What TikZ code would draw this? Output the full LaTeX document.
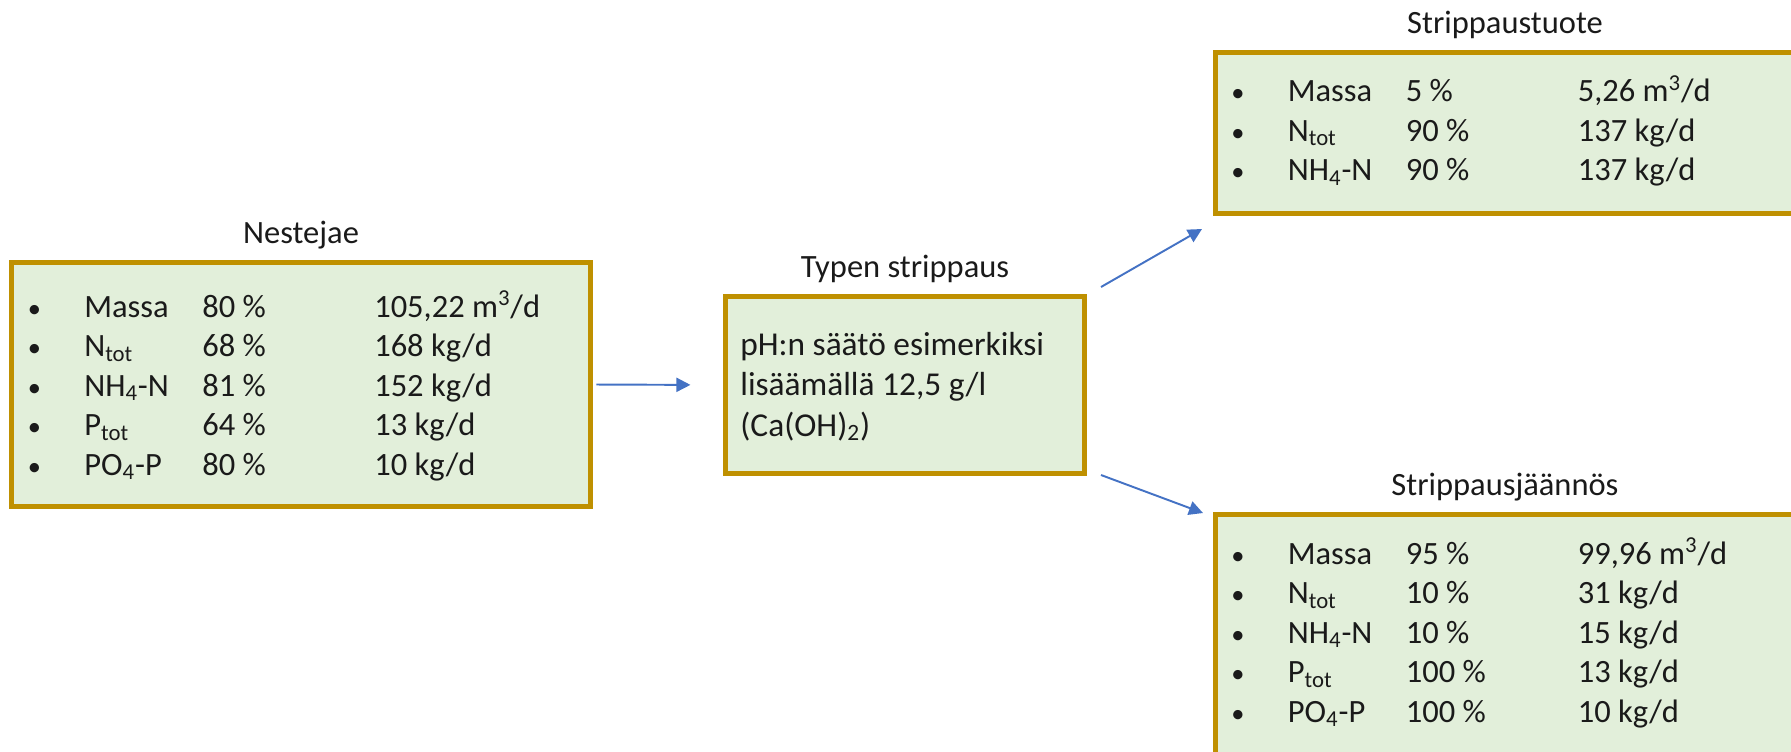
\documentclass[tikz,border=0pt]{standalone}
\usepackage{fontspec}
\setmainfont{Carlito}
\usetikzlibrary{arrows.meta}

\definecolor{boxfill}{HTML}{E2EFDA}
\definecolor{boxline}{HTML}{BF9000}
\definecolor{flowblue}{HTML}{4472C4}
\definecolor{textgray}{HTML}{1A1A1A}

\newcommand{\rowfont}{\fontsize{18.5}{22.5}\selectfont}
\newcommand{\midfont}{\fontsize{19}{23.05}\selectfont}
\newcommand{\lowtxt}[1]{\textsubscript{#1}}
\newcommand{\hightxt}[1]{\textsuperscript{#1}}
\newcommand{\dotmark}{\makebox[0.32cm]{\fontsize{15}{15}\selectfont\textbullet}}
\newenvironment{flowrows}{\begin{tabular}[t]{@{}p{1.16cm}@{}p{2.36cm}@{}p{3.44cm}@{}l@{}}}{\end{tabular}}

\tikzset{
  flowbox/.style={draw=boxline, fill=boxfill, line width=0.094cm, inner sep=0pt},
  boxtitle/.style={anchor=base, font=\rowfont, text=textgray},
  rowlist/.style={anchor=base west, inner sep=0pt, font=\rowfont, text=textgray},
  flowarrow/.style={flowblue, line width=1.1pt, -{Triangle[length=0.28cm,width=0.28cm]}}
}

\begin{document}
\begin{tikzpicture}[x=0.02cm, y=-0.02cm]
    \path[use as bounding box, clip] (0,0) rectangle (1791,751);

    % input
    \node (nestejae) at (301,384.5) [flowbox, minimum width=11.58cm, minimum height=4.89cm]{};
    \node (nestejae-title) at (301,243) [boxtitle] {Nestejae};
    \node (nestejae-rows) at (26,317) [rowlist] {\begin{flowrows}
        \dotmark & Massa & 80 \% & 105,22 m\hightxt{3}/d\\
        \dotmark & N\lowtxt{tot} & 68 \% & 168 kg/d\\
        \dotmark & NH\lowtxt{4}-N & 81 \% & 152 kg/d\\
        \dotmark & P\lowtxt{tot} & 64 \% & 13 kg/d\\
        \dotmark & PO\lowtxt{4}-P & 80 \% & 10 kg/d
    \end{flowrows}};

    % stripping
    \node (strip) at (905,385) [flowbox, minimum width=7.19cm, minimum height=3.55cm]{};
    \node (strip-title) at (905,277) [boxtitle] {Typen strippaus};
    \node (strip-text) at (740,355) [rowlist, font=\midfont] {\begin{tabular}[t]{@{}l@{}}
        pH:n säätö esimerkiksi\\
        lisäämällä 12,5 g/l\\
        (Ca(OH)\lowtxt{2})
    \end{tabular}};

    % product
    \node (tuote) at (1505,133) [flowbox, minimum width=11.59cm, minimum height=3.23cm]{};
    \node (tuote-title) at (1505,33) [boxtitle] {Strippaustuote};
    \node (tuote-rows) at (1229.5,101.5) [rowlist] {\begin{flowrows}
        \dotmark & Massa & 5 \% & 5,26 m\hightxt{3}/d\\
        \dotmark & N\lowtxt{tot} & 90 \% & 137 kg/d\\
        \dotmark & NH\lowtxt{4}-N & 90 \% & 137 kg/d
    \end{flowrows}};

    % residue
    \node (jaannos) at (1505,651) [flowbox, minimum width=11.59cm, minimum height=5.47cm]{};
    \node (jaannos-title) at (1505,495) [boxtitle] {Strippausjäännös};
    \node (jaannos-rows) at (1229.5,564) [rowlist] {\begin{flowrows}
        \dotmark & Massa & 95 \% & 99,96 m\hightxt{3}/d\\
        \dotmark & N\lowtxt{tot} & 10 \% & 31 kg/d\\
        \dotmark & NH\lowtxt{4}-N & 10 \% & 15 kg/d\\
        \dotmark & P\lowtxt{tot} & 100 \% & 13 kg/d\\
        \dotmark & PO\lowtxt{4}-P & 100 \% & 10 kg/d
    \end{flowrows}};

    \coordinate (up-from) at (1101,287);
    \coordinate (up-to) at (1202,229);
    \coordinate (down-from) at (1101,475);
    \coordinate (down-to) at (1203,513);

    \draw[flowarrow, shorten <=0.07cm, shorten >=0.65cm] (nestejae.east) -- (strip.west);
    \draw[flowarrow] (up-from) -- (up-to);
    \draw[flowarrow] (down-from) -- (down-to);
\end{tikzpicture}
\end{document}
